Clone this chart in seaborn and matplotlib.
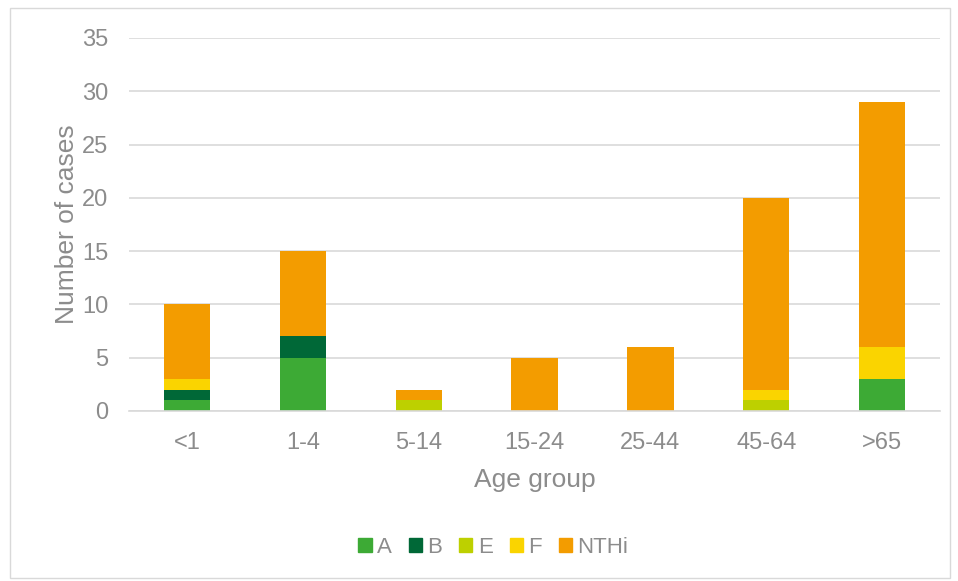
import matplotlib
matplotlib.use("Agg")
import matplotlib.pyplot as plt
import matplotlib.patches as mpatches
import numpy as np
import pandas as pd
import seaborn as sns

age_groups = ["<1", "1-4", "5-14", "15-24", "25-44", "45-64", ">65"]
serotypes = ["A", "B", "E", "F", "NTHi"]
cases_a = [1, 5, 0, 0, 0, 0, 3]
cases_b = [1, 2, 0, 0, 0, 0, 0]
cases_e = [0, 0, 1, 0, 0, 1, 0]
cases_f = [1, 0, 0, 0, 0, 1, 3]
cases_nthi = [7, 8, 1, 5, 6, 18, 23]
colors = ["#3DAA35", "#006837", "#BDD000", "#FAD400", "#F39C00"]

sns.set_theme(style="white")
plt.rcParams["font.family"] = ["Liberation Sans", "DejaVu Sans"]
text_grey = "#8C8C8C"

df = pd.DataFrame({"age": age_groups, "A": cases_a, "B": cases_b,
                   "E": cases_e, "F": cases_f, "NTHi": cases_nthi})

fig = plt.figure(figsize=(9.58, 5.81), dpi=100)
ax = fig.add_axes([0.1347, 0.2926, 0.8466, 0.642])

bottom = np.zeros(len(age_groups))
for s, c in zip(serotypes, colors):
    sns.barplot(data=df, x="age", y=s, color=c, bottom=bottom, width=0.4,
                ax=ax, saturation=1, linewidth=0)
    bottom += df[s].values

ax.set_xlim(-0.5, 6.5)
ax.set_ylim(0, 35)
ax.set_yticks(range(0, 36, 5))
ax.yaxis.grid(True, color="#D9D9D9", linewidth=1.2)
ax.set_axisbelow(True)
for sp in ["top", "right", "left"]:
    ax.spines[sp].set_visible(False)
ax.spines["bottom"].set_color("#D9D9D9")
ax.spines["bottom"].set_linewidth(1.2)
ax.tick_params(axis="y", length=0, labelsize=17, colors=text_grey, pad=15)
ax.tick_params(axis="x", length=0, labelsize=17, colors=text_grey, pad=15)
ax.set_xlabel("Age group", fontsize=19, color=text_grey, labelpad=10)
ax.set_ylabel("Number of cases", fontsize=19, color=text_grey, labelpad=2)

handles = [mpatches.Patch(color=c, label=s) for s, c in zip(serotypes, colors)]
fig.legend(handles=handles, loc="center", bbox_to_anchor=(0.515, 0.058), ncol=5,
           frameon=False, fontsize=16, labelcolor=text_grey, handlelength=0.6,
           handleheight=0.6, handletextpad=0.25, columnspacing=0.75)

fig.patches.append(mpatches.Rectangle((0.0104, 0.005), 0.981, 0.981, transform=fig.transFigure,
                                      fill=False, edgecolor="#D9D9D9", linewidth=1))

fig.savefig("out.png", dpi=100)
